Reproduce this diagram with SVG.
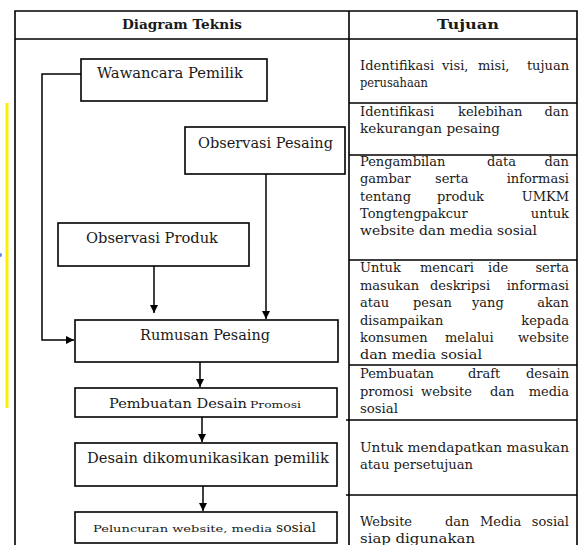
<svg xmlns="http://www.w3.org/2000/svg" width="579" height="545" viewBox="0 0 579 545">
<defs>
<style>
text{font-family:"DejaVu Serif","Liberation Serif",serif;fill:#1a1a1a}
.t{font-size:13px}
.n{font-size:14px}
.h{font-size:13px;font-weight:bold;text-anchor:middle}
.e{text-anchor:end}
.box{fill:#fff;stroke:#000;stroke-width:1.6}
.grid{stroke:#000;stroke-width:1.6;fill:none}
.con{stroke:#000;stroke-width:1.5;fill:none}
</style>
<marker id="ah" viewBox="0 0 10 10" refX="10" refY="5" markerWidth="8" markerHeight="8" markerUnits="userSpaceOnUse" orient="auto">
<path d="M0,0 L10,5 L0,10 z" fill="#000"/>
</marker>
</defs>
<rect width="579" height="545" fill="#fff"/>
<line x1="7" y1="103" x2="7" y2="408" stroke="#ffee00" stroke-width="3"/>
<circle cx="0" cy="255" r="2" fill="#5b8ad8"/>

<g id="table">
<path class="grid" d="M15,545 V11 H577 V545 M15,39 H577 M349,11 V545"/>
<path class="grid" d="M349,103 H577 M349,155 H577 M349,260 H577 M349,365 H577 M346,420 H577 M346,495 H577"/>
<text class="h" x="182" y="29" textLength="120" lengthAdjust="spacingAndGlyphs">Diagram Teknis</text>
<text class="h" x="468" y="29" textLength="62" lengthAdjust="spacingAndGlyphs">Tujuan</text>
</g>

<g id="tujuan-1">
<text class="t" x="360" y="70">Identifikasi</text><text class="t" x="442" y="70">visi,</text><text class="t" x="478" y="70">misi,</text><text class="t e" x="569" y="70">tujuan</text>
<text class="t" x="360" y="87" textLength="68" lengthAdjust="spacingAndGlyphs">perusahaan</text>
</g>
<g id="tujuan-2">
<text class="t" x="360" y="116">Identifikasi</text><text class="t" x="458" y="116">kelebihan</text><text class="t e" x="569" y="116">dan</text>
<text class="t" x="360" y="133" textLength="140" lengthAdjust="spacingAndGlyphs">kekurangan pesaing</text>
</g>
<g id="tujuan-3">
<text class="t" x="360" y="166">Pengambilan</text><text class="t" x="487" y="166">data</text><text class="t e" x="569" y="166">dan</text>
<text class="t" x="360" y="183">gambar</text><text class="t" x="435" y="183">serta</text><text class="t e" x="569" y="183">informasi</text>
<text class="t" x="360" y="201">tentang</text><text class="t" x="437" y="201">produk</text><text class="t e" x="569" y="201">UMKM</text>
<text class="t" x="360" y="218">Tongtengpakcur</text><text class="t e" x="569" y="218">untuk</text>
<text class="t" x="360" y="235" textLength="177" lengthAdjust="spacingAndGlyphs">website dan media sosial</text>
</g>
<g id="tujuan-4">
<text class="t" x="360" y="272">Untuk</text><text class="t" x="420" y="272">mencari</text><text class="t" x="488" y="272">ide</text><text class="t e" x="569" y="272">serta</text>
<text class="t" x="360" y="290">masukan</text><text class="t" x="430" y="290">deskripsi</text><text class="t e" x="569" y="290">informasi</text>
<text class="t" x="360" y="307">atau</text><text class="t" x="413" y="307">pesan</text><text class="t" x="472" y="307">yang</text><text class="t e" x="569" y="307">akan</text>
<text class="t" x="360" y="325">disampaikan</text><text class="t e" x="569" y="325">kepada</text>
<text class="t" x="360" y="342">konsumen</text><text class="t" x="445" y="342">melalui</text><text class="t e" x="569" y="342">website</text>
<text class="t" x="360" y="359" textLength="122" lengthAdjust="spacingAndGlyphs">dan media sosial</text>
</g>
<g id="tujuan-5">
<text class="t" x="360" y="378">Pembuatan</text><text class="t" x="468" y="378">draft</text><text class="t e" x="569" y="378">desain</text>
<text class="t" x="360" y="396">promosi</text><text class="t" x="421" y="396">website</text><text class="t" x="490" y="396">dan</text><text class="t e" x="569" y="396">media</text>
<text class="t" x="360" y="413" textLength="38" lengthAdjust="spacingAndGlyphs">sosial</text>
</g>
<g id="tujuan-6">
<text class="t" x="360" y="452" textLength="209" lengthAdjust="spacingAndGlyphs">Untuk mendapatkan masukan</text>
<text class="t" x="360" y="469" textLength="113" lengthAdjust="spacingAndGlyphs">atau persetujuan</text>
</g>
<g id="tujuan-7">
<text class="t" x="360" y="526">Website</text><text class="t" x="445" y="526">dan</text><text class="t" x="480" y="526">Media</text><text class="t e" x="569" y="526">sosial</text>
<text class="t" x="360" y="543" textLength="115" lengthAdjust="spacingAndGlyphs">siap digunakan</text>
</g>

<g id="connectors">
<path class="con" d="M81,74 H42 V340 H74" marker-end="url(#ah)"/>
<path class="con" d="M266,174 V319" marker-end="url(#ah)"/>
<path class="con" d="M154,266 V313" marker-end="url(#ah)"/>
<path class="con" d="M200,362 V387" marker-end="url(#ah)"/>
<path class="con" d="M202,417 V442" marker-end="url(#ah)"/>
<path class="con" d="M203,486 V511" marker-end="url(#ah)"/>
</g>

<g id="wawancara-pemilik">
<rect class="box" x="81" y="59" width="186" height="42"/>
<text class="n" x="97" y="78" textLength="146" lengthAdjust="spacingAndGlyphs">Wawancara Pemilik</text>
</g>
<g id="observasi-pesaing">
<rect class="box" x="185" y="127" width="160" height="47"/>
<text class="n" x="198" y="148" textLength="135" lengthAdjust="spacingAndGlyphs">Observasi Pesaing</text>
</g>
<g id="observasi-produk">
<rect class="box" x="58" y="223" width="191" height="43"/>
<text class="n" x="86" y="243" textLength="132" lengthAdjust="spacingAndGlyphs">Observasi Produk</text>
</g>
<g id="rumusan-pesaing">
<rect class="box" x="75" y="320" width="263" height="42"/>
<text class="n" x="140" y="340" textLength="130" lengthAdjust="spacingAndGlyphs">Rumusan Pesaing</text>
</g>
<g id="pembuatan-desain">
<rect class="box" x="75" y="388" width="262" height="29"/>
<text x="109" y="408" style="font-size:13px" textLength="138" lengthAdjust="spacingAndGlyphs">Pembuatan Desain</text>
<text x="250" y="408" style="font-size:9px" textLength="51" lengthAdjust="spacingAndGlyphs">Promosi</text>
</g>
<g id="desain-dikomunikasikan">
<rect class="box" x="75" y="443" width="262" height="43"/>
<text class="n" x="87" y="463" textLength="242" lengthAdjust="spacingAndGlyphs">Desain dikomunikasikan pemilik</text>
</g>
<g id="peluncuran">
<rect class="box" x="75" y="512" width="262" height="31"/>
<text x="93" y="532" style="font-size:10px" textLength="179" lengthAdjust="spacingAndGlyphs">Peluncuran website, media</text>
<text x="276" y="532" style="font-size:12px" textLength="40" lengthAdjust="spacingAndGlyphs">sosial</text>
</g>
</svg>
